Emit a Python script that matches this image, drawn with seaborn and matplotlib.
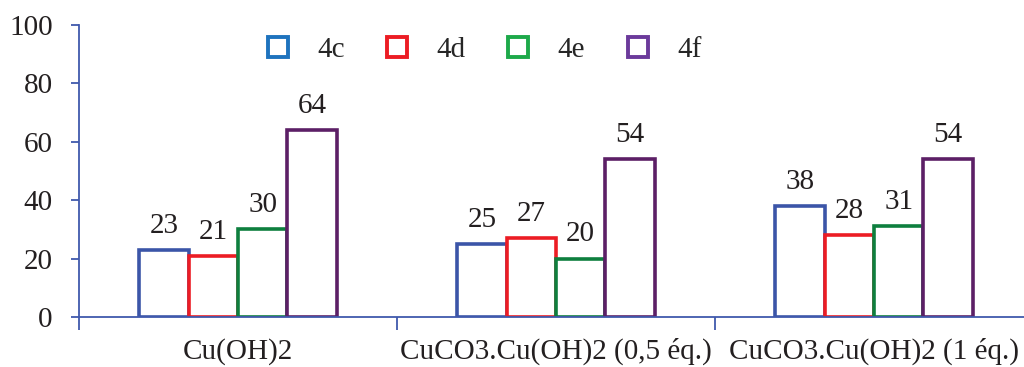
import pandas as pd
import matplotlib.pyplot as plt
import seaborn as sns
from matplotlib.lines import Line2D

# chart values
categories = ['Cu(OH)2', 'CuCO3.Cu(OH)2 (0,5 éq.)', 'CuCO3.Cu(OH)2 (1 éq.)']
compounds = ['4c', '4d', '4e', '4f']
values_4c = [23, 25, 38]
values_4d = [21, 27, 28]
values_4e = [30, 20, 31]
values_4f = [64, 54, 54]

bar_colors = ['#3B55A8', '#EC1C24', '#0E7F3E', '#5C1F66']
legend_colors = ['#1E73BE', '#EC1C24', '#1DA94A', '#6B3A9B']
axis_color = '#4059AD'

df = pd.DataFrame({
    'category': categories * 4,
    'compound': [c for c in compounds for _ in categories],
    'value': values_4c + values_4d + values_4e + values_4f,
})

sns.set_style('white')
plt.rcParams['font.family'] = ['Liberation Serif', 'DejaVu Serif']

fig = plt.figure(figsize=(10.24, 3.67), dpi=100)
ax = fig.add_axes([79 / 1024, 50 / 367, 954 / 1024, 292 / 367])

sns.barplot(data=df, x='category', y='value', hue='compound', palette=bar_colors,
            width=0.62, gap=0, linewidth=2.6, legend=False, ax=ax)

for cont, col in zip(ax.containers, bar_colors):
    for bar in cont:
        bar.set_facecolor('white')
        bar.set_edgecolor(col)
        bar.set_linewidth(2.6)
    ax.bar_label(cont, padding=8, fontsize=21, color='#231F20')

ax.set_xlim(-0.5, 2.5)
ax.set_ylim(0, 100)
ax.set_yticks([0, 20, 40, 60, 80, 100])
ax.set_xlabel('')
ax.set_ylabel('')

for side in ['top', 'right']:
    ax.spines[side].set_visible(False)
for side in ['left', 'bottom']:
    ax.spines[side].set_color(axis_color)
    ax.spines[side].set_linewidth(1.3)

ax.tick_params(axis='y', direction='out', length=6, width=1.3, color=axis_color,
               labelsize=21, labelcolor='#231F20', pad=13, left=True)
ax.tick_params(axis='x', which='major', length=0, labelsize=21, labelcolor='#231F20', pad=15)
ax.set_xticks([-0.5, 0.5, 1.5], minor=True)
ax.tick_params(axis='x', which='minor', direction='out', length=9, width=1.3,
               color=axis_color, bottom=True)

handles = [Line2D([], [], linestyle='none', marker='s', markersize=15,
                  markerfacecolor='white', markeredgecolor=c, markeredgewidth=2.8)
           for c in legend_colors]
ax.legend(handles, compounds, ncol=4, frameon=False, fontsize=21,
          loc='upper left', bbox_to_anchor=(0.19, 0.96), borderaxespad=0, borderpad=0,
          handlelength=1.2, handletextpad=0.75, columnspacing=1.2)

fig.savefig('out.png', dpi=100)
